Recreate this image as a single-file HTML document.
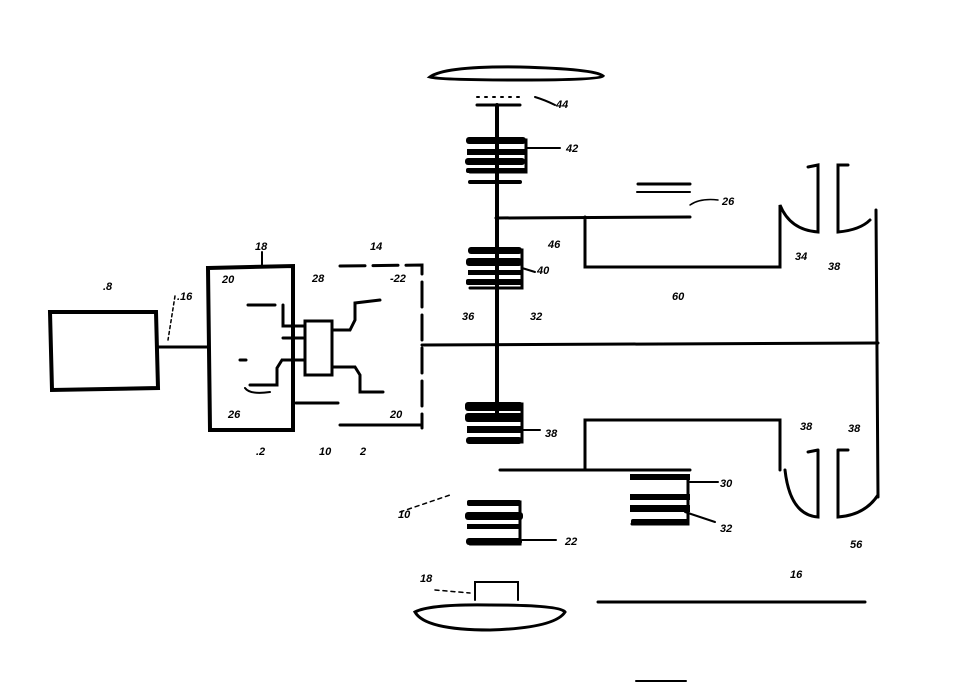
<!DOCTYPE html>
<html><head><style>
html,body{margin:0;padding:0;background:#fff;}
svg{display:block}
text{font-family:"Liberation Sans",sans-serif;font-style:italic;font-weight:bold;font-size:11px;fill:#000}
</style></head><body>
<svg width="960" height="687" viewBox="0 0 960 687" xmlns="http://www.w3.org/2000/svg">
<g fill="none" stroke="#000" stroke-linecap="round">
<path d="M50 312 L156 312 L158 388 L52 390 Z" stroke-width="4"/>
<line x1="158" y1="347" x2="207" y2="347" stroke-width="3"/>
<path d="M208 268 L293 266 L293 430 L210 430 Z" stroke-width="4"/>
<line x1="262" y1="252" x2="262" y2="266" stroke-width="2"/>
<path d="M340 266 L422 265 L422 428" stroke-width="3" stroke-dasharray="25 8"/>
<line x1="340" y1="425" x2="421" y2="425" stroke-width="3"/>
<line x1="296" y1="403" x2="338" y2="403" stroke-width="3"/>
<rect x="305" y="321" width="27" height="54" stroke-width="3"/>
<path d="M283 305 L283 326 L305 326 M283 338 L303 338 M305 360 L282 360 L277 368 L277 385 L250 385" stroke-width="3"/>
<path d="M332 330 L350 330 L355 320 L355 303 L380 300" stroke-width="3"/>
<path d="M332 367 L355 367 L360 375 L360 392 L383 392" stroke-width="3"/>
<path d="M248 305 L275 305" stroke-width="3"/>
<path d="M240 360 L246 360" stroke-width="3"/>
<path d="M245 388 Q250 395 270 392" stroke-width="2"/>
<line x1="422" y1="345" x2="878" y2="343" stroke-width="3"/>
<line x1="497" y1="105" x2="497" y2="420" stroke-width="4"/>
<path d="M430 77 Q445 66 520 67 Q595 69 603 76 Q600 80 520 80 Q440 80 430 77 Z" stroke-width="3"/>
<line x1="477" y1="97" x2="520" y2="97" stroke-width="2" stroke-dasharray="2 6"/>
<line x1="477" y1="105" x2="520" y2="105" stroke-width="3"/>
<path d="M535 97 Q545 100 555 105" stroke-width="2"/>
<path d="M496 218 L690 217 M585 217 L585 267 L780 267 L780 205 Q790 230 818 232 L818 165 L808 167" stroke-width="3"/>
<path d="M848 165 L838 165 L838 232 Q860 230 870 220" stroke-width="3"/>
<line x1="876" y1="210" x2="878" y2="497" stroke-width="3"/>
<line x1="638" y1="184" x2="690" y2="184" stroke-width="3"/>
<line x1="637" y1="192" x2="690" y2="192" stroke-width="2"/>
<path d="M690 205 Q700 198 718 200" stroke-width="1.5"/>
<path d="M500 470 L690 470 M585 470 L585 420 L780 420 L780 470 M818 450 L818 517 Q790 515 785 470 M838 450 L838 517 Q865 515 878 495 M838 450 L848 450 M818 450 L808 452" stroke-width="3"/>
<line x1="598" y1="602" x2="865" y2="602" stroke-width="3"/>
<path d="M415 612 Q430 604 490 605 Q560 605 565 612 Q555 628 490 630 Q425 630 415 612 Z" stroke-width="3"/>
<path d="M475 600 L475 582 L518 582 L518 600" stroke-width="2"/>
<line x1="636" y1="681" x2="686" y2="681" stroke-width="2"/>
<line x1="527" y1="148" x2="560" y2="148" stroke-width="2"/>
<line x1="522" y1="268" x2="535" y2="272" stroke-width="2"/>
<line x1="522" y1="430" x2="540" y2="430" stroke-width="2"/>
<line x1="522" y1="540" x2="556" y2="540" stroke-width="2"/>
<line x1="690" y1="482" x2="718" y2="482" stroke-width="2"/>
<line x1="685" y1="512" x2="715" y2="522" stroke-width="2"/>
<line x1="175" y1="296" x2="168" y2="340" stroke-width="1.5" stroke-dasharray="3 3"/>
<line x1="400" y1="512" x2="450" y2="495" stroke-width="1.5" stroke-dasharray="4 4"/>
<line x1="435" y1="590" x2="470" y2="593" stroke-width="1.5" stroke-dasharray="4 4"/>
<!-- gear outlines -->
<path d="M470 140 L526 140 L526 172 L470 172" stroke-width="3"/>
<path d="M470 250 L522 250 L522 288 L470 288" stroke-width="3"/>
<path d="M470 404 L522 404 L522 442 L470 442" stroke-width="3"/>
<path d="M470 502 L520 502 L520 544 L470 544" stroke-width="3"/>
<path d="M632 476 L688 476 L688 524 L632 524" stroke-width="3"/>
</g>
<g fill="#000">
<rect x="466" y="137" width="60" height="7" rx="3"/>
<rect x="467" y="149" width="58" height="6"/>
<rect x="465" y="158" width="60" height="7" rx="3"/>
<rect x="466" y="168" width="60" height="5" rx="2"/>
<rect x="468" y="180" width="54" height="4" rx="2"/>
<rect x="468" y="247" width="54" height="7" rx="3"/>
<rect x="466" y="258" width="56" height="8" rx="3"/>
<rect x="468" y="270" width="54" height="5"/>
<rect x="466" y="279" width="56" height="6" rx="2"/>
<rect x="465" y="402" width="58" height="9" rx="3"/>
<rect x="465" y="413" width="58" height="9" rx="3"/>
<rect x="467" y="426" width="55" height="7"/>
<rect x="466" y="437" width="56" height="7" rx="3"/>
<rect x="467" y="500" width="54" height="6" rx="2"/>
<rect x="465" y="512" width="58" height="8" rx="3"/>
<rect x="467" y="524" width="54" height="5"/>
<rect x="466" y="538" width="56" height="7" rx="3"/>
<rect x="630" y="474" width="60" height="6"/>
<rect x="630" y="494" width="60" height="6"/>
<rect x="630" y="505" width="60" height="7"/>
<rect x="631" y="519" width="58" height="6" rx="2"/>
</g>
<text x="103" y="290">.8</text>
<text x="177" y="300">.16</text>
<text x="255" y="250">18</text>
<text x="370" y="250">14</text>
<text x="222" y="283">20</text>
<text x="312" y="282">28</text>
<text x="390" y="282">-22</text>
<text x="228" y="418">26</text>
<text x="390" y="418">20</text>
<text x="256" y="455">.2</text>
<text x="319" y="455">10</text>
<text x="360" y="455">2</text>
<text x="556" y="108">44</text>
<text x="566" y="152">42</text>
<text x="548" y="248">46</text>
<text x="537" y="274">40</text>
<text x="462" y="320">36</text>
<text x="530" y="320">32</text>
<text x="672" y="300">60</text>
<text x="722" y="205">26</text>
<text x="795" y="260">34</text>
<text x="828" y="270">38</text>
<text x="545" y="437">38</text>
<text x="800" y="430">38</text>
<text x="848" y="432">38</text>
<text x="720" y="487">30</text>
<text x="720" y="532">32</text>
<text x="398" y="518">10</text>
<text x="565" y="545">22</text>
<text x="420" y="582">18</text>
<text x="790" y="578">16</text>
<text x="850" y="548">56</text>
</svg>
</body></html>
